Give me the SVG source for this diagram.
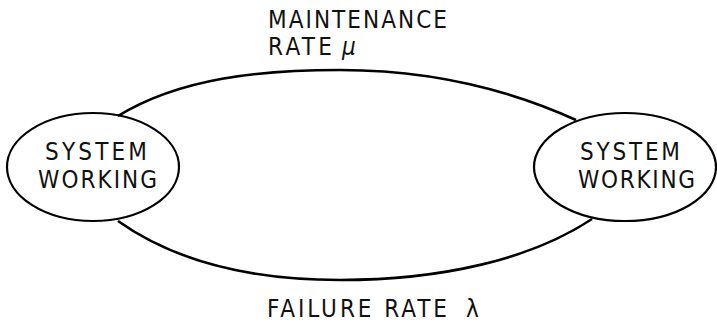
<svg xmlns="http://www.w3.org/2000/svg" width="717" height="324" viewBox="0 0 717 324">
<style>
.node ellipse{fill:none;stroke:#000;stroke-width:2.2}
.edge{fill:none;stroke:#000;stroke-width:2.6}
text{font-family:"DejaVu Sans Condensed","DejaVu Sans","Liberation Sans",sans-serif;font-size:24px;fill:#111}
</style>
<rect width="717" height="324" fill="#fff"/>
<g id="connectors">
<path class="edge" d="M118,116 C180,78 260,70 340,70 C430,70 510,90 576,120"/>
<path class="edge" d="M118,221 C180,265 260,280 340,280 C440,280 530,260 592,219"/>
</g>
<g id="node-left" class="node">
<ellipse cx="93" cy="167" rx="86" ry="54"/>
<text x="45" y="160" textLength="102" lengthAdjust="spacing">SYSTEM</text>
<text x="38" y="188" textLength="119" lengthAdjust="spacing">WORKING</text>
</g>
<g id="node-right" class="node">
<ellipse cx="625" cy="167" rx="91" ry="54"/>
<text x="580" y="160" textLength="100" lengthAdjust="spacing">SYSTEM</text>
<text x="578" y="188" textLength="117" lengthAdjust="spacing">WORKING</text>
</g>
<g id="labels">
<text x="268" y="28" textLength="179" lengthAdjust="spacing">MAINTENANCE</text>
<text x="268" y="55" textLength="64" lengthAdjust="spacing">RATE</text>
<text x="342" y="55" font-style="italic" font-size="26">μ</text>
<text x="267" y="317" textLength="180" lengthAdjust="spacing">FAILURE RATE</text>
<text x="466" y="317">λ</text>
</g>
</svg>
